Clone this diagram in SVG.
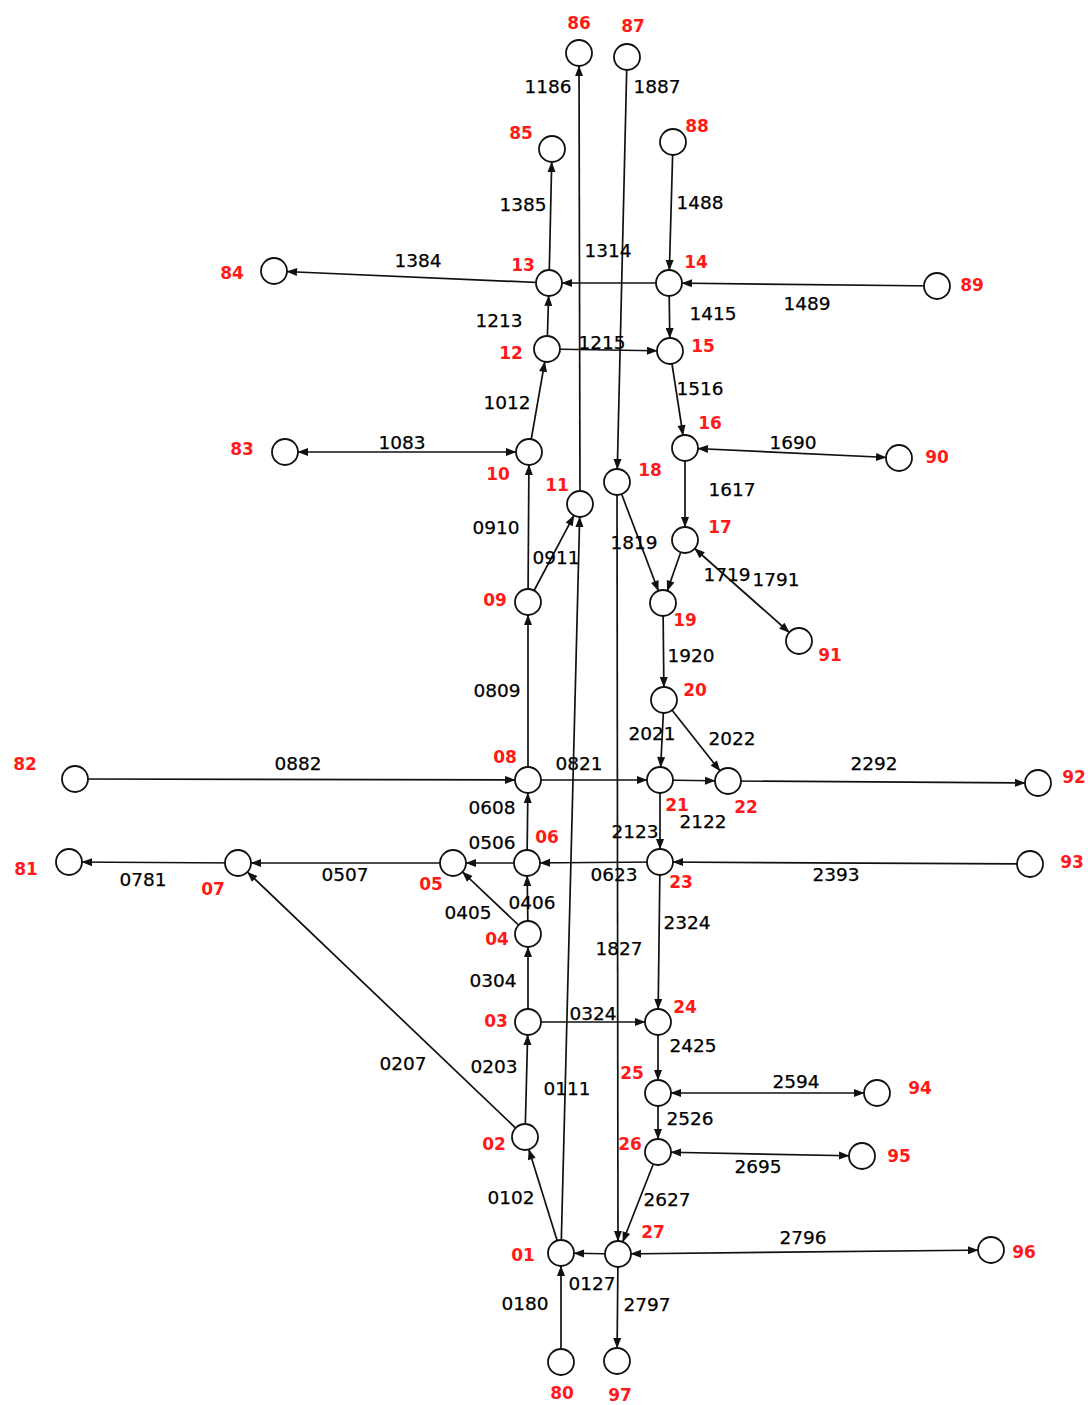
<svg xmlns="http://www.w3.org/2000/svg" width="1088" height="1405" viewBox="0 0 1088 1405">
<style>
.e{stroke:#111;stroke-width:1.7;fill:none}
.n circle{fill:#fff;stroke:#111;stroke-width:1.8}
.n text{font-family:"DejaVu Sans",Verdana,sans-serif;font-size:17px;font-weight:bold;fill:#ff1a1a;text-anchor:middle}
.l{font-family:"DejaVu Sans",Verdana,sans-serif;font-size:18.5px;fill:#000;text-anchor:middle;stroke:#000;stroke-width:0.25}
</style>
<defs>
<marker id="a" markerUnits="userSpaceOnUse" markerWidth="24" markerHeight="9" refX="23" refY="4.5" orient="auto-start-reverse" overflow="visible"><path d="M0,0.5 L10.5,4.5 L0,8.5 z" fill="#111"/></marker>
</defs>
<rect width="1088" height="1405" fill="#fff"/>
<g id="connectors">
<g id="e1186"><line class="e" x1="580" y1="504" x2="579" y2="53" marker-end="url(#a)"/><text class="l" x="548" y="93">1186</text></g>
<g id="e1887"><line class="e" x1="627" y1="57" x2="617" y2="482" marker-end="url(#a)"/><text class="l" x="657" y="93">1887</text></g>
<g id="e1385"><line class="e" x1="549" y1="283" x2="552" y2="149" marker-end="url(#a)"/><text class="l" x="523" y="211">1385</text></g>
<g id="e1488"><line class="e" x1="673" y1="142" x2="669" y2="283" marker-end="url(#a)"/><text class="l" x="700" y="209">1488</text></g>
<g id="e1314"><line class="e" x1="669" y1="283" x2="549" y2="283" marker-end="url(#a)"/><text class="l" x="608" y="257">1314</text></g>
<g id="e1384"><line class="e" x1="549" y1="283" x2="274" y2="271" marker-end="url(#a)"/><text class="l" x="418" y="267">1384</text></g>
<g id="e1489"><line class="e" x1="937" y1="286" x2="669" y2="283" marker-end="url(#a)"/><text class="l" x="807" y="310">1489</text></g>
<g id="e1213"><line class="e" x1="547" y1="349" x2="549" y2="283" marker-end="url(#a)"/><text class="l" x="499" y="327">1213</text></g>
<g id="e1415"><line class="e" x1="669" y1="283" x2="670" y2="351" marker-end="url(#a)"/><text class="l" x="713" y="320">1415</text></g>
<g id="e1215"><line class="e" x1="547" y1="349" x2="670" y2="351" marker-end="url(#a)"/><text class="l" x="602" y="349">1215</text></g>
<g id="e1516"><line class="e" x1="670" y1="351" x2="685" y2="448" marker-end="url(#a)"/><text class="l" x="700" y="395">1516</text></g>
<g id="e1012"><line class="e" x1="529" y1="452" x2="547" y2="349" marker-end="url(#a)"/><text class="l" x="507" y="409">1012</text></g>
<g id="e1083"><line class="e" x1="285" y1="452" x2="529" y2="452" marker-start="url(#a)" marker-end="url(#a)"/><text class="l" x="402" y="449">1083</text></g>
<g id="e1690"><line class="e" x1="685" y1="448" x2="899" y2="458" marker-start="url(#a)" marker-end="url(#a)"/><text class="l" x="793" y="449">1690</text></g>
<g id="e1617"><line class="e" x1="685" y1="448" x2="685" y2="540" marker-end="url(#a)"/><text class="l" x="732" y="496">1617</text></g>
<g id="e0910"><line class="e" x1="528" y1="602" x2="529" y2="452" marker-end="url(#a)"/><text class="l" x="496" y="534">0910</text></g>
<g id="e0911"><line class="e" x1="528" y1="602" x2="580" y2="504" marker-end="url(#a)"/><text class="l" x="556" y="564">0911</text></g>
<g id="e1819"><line class="e" x1="617" y1="482" x2="663" y2="603" marker-end="url(#a)"/><text class="l" x="634" y="549">1819</text></g>
<g id="e1719"><line class="e" x1="685" y1="540" x2="663" y2="603" marker-end="url(#a)"/><text class="l" x="727" y="581">1719</text></g>
<g id="e1791"><line class="e" x1="685" y1="540" x2="799" y2="641" marker-start="url(#a)" marker-end="url(#a)"/><text class="l" x="776" y="586">1791</text></g>
<g id="e1920"><line class="e" x1="663" y1="603" x2="664" y2="700" marker-end="url(#a)"/><text class="l" x="691" y="662">1920</text></g>
<g id="e0809"><line class="e" x1="528" y1="780" x2="528" y2="602" marker-end="url(#a)"/><text class="l" x="497" y="697">0809</text></g>
<g id="e2021"><line class="e" x1="664" y1="700" x2="660" y2="780" marker-end="url(#a)"/><text class="l" x="652" y="740">2021</text></g>
<g id="e2022"><line class="e" x1="664" y1="700" x2="728" y2="781" marker-end="url(#a)"/><text class="l" x="732" y="745">2022</text></g>
<g id="e0882"><line class="e" x1="75" y1="779" x2="528" y2="780" marker-end="url(#a)"/><text class="l" x="298" y="770">0882</text></g>
<g id="e0821"><line class="e" x1="528" y1="780" x2="660" y2="780" marker-end="url(#a)"/><text class="l" x="579" y="770">0821</text></g>
<g id="e2122"><line class="e" x1="660" y1="780" x2="728" y2="781" marker-end="url(#a)"/><text class="l" x="703" y="828">2122</text></g>
<g id="e2292"><line class="e" x1="728" y1="781" x2="1038" y2="783" marker-end="url(#a)"/><text class="l" x="874" y="770">2292</text></g>
<g id="e0608"><line class="e" x1="527" y1="863" x2="528" y2="780" marker-end="url(#a)"/><text class="l" x="492" y="814">0608</text></g>
<g id="e2123"><line class="e" x1="660" y1="780" x2="660" y2="862" marker-end="url(#a)"/><text class="l" x="635" y="838">2123</text></g>
<g id="e0506"><line class="e" x1="527" y1="863" x2="453" y2="863" marker-end="url(#a)"/><text class="l" x="492" y="849">0506</text></g>
<g id="e0781"><line class="e" x1="238" y1="863" x2="69" y2="862" marker-end="url(#a)"/><text class="l" x="143" y="886">0781</text></g>
<g id="e0507"><line class="e" x1="453" y1="863" x2="238" y2="863" marker-end="url(#a)"/><text class="l" x="345" y="881">0507</text></g>
<g id="e0623"><line class="e" x1="660" y1="862" x2="527" y2="863" marker-end="url(#a)"/><text class="l" x="614" y="881">0623</text></g>
<g id="e2393"><line class="e" x1="1030" y1="864" x2="660" y2="862" marker-end="url(#a)"/><text class="l" x="836" y="881">2393</text></g>
<g id="e0406"><line class="e" x1="528" y1="934" x2="527" y2="863" marker-end="url(#a)"/><text class="l" x="532" y="909">0406</text></g>
<g id="e0405"><line class="e" x1="528" y1="934" x2="453" y2="863" marker-end="url(#a)"/><text class="l" x="468" y="919">0405</text></g>
<g id="e2324"><line class="e" x1="660" y1="862" x2="658" y2="1022" marker-end="url(#a)"/><text class="l" x="687" y="929">2324</text></g>
<g id="e1827"><line class="e" x1="617" y1="482" x2="618" y2="1254" marker-end="url(#a)"/><text class="l" x="619" y="955">1827</text></g>
<g id="e0304"><line class="e" x1="528" y1="1022" x2="528" y2="934" marker-end="url(#a)"/><text class="l" x="493" y="987">0304</text></g>
<g id="e0324"><line class="e" x1="528" y1="1022" x2="658" y2="1022" marker-end="url(#a)"/><text class="l" x="593" y="1020">0324</text></g>
<g id="e2425"><line class="e" x1="658" y1="1022" x2="658" y2="1093" marker-end="url(#a)"/><text class="l" x="693" y="1052">2425</text></g>
<g id="e0207"><line class="e" x1="525" y1="1137" x2="238" y2="863" marker-end="url(#a)"/><text class="l" x="403" y="1070">0207</text></g>
<g id="e0203"><line class="e" x1="525" y1="1137" x2="528" y2="1022" marker-end="url(#a)"/><text class="l" x="494" y="1073">0203</text></g>
<g id="e0111"><line class="e" x1="561" y1="1253" x2="580" y2="504" marker-end="url(#a)"/><text class="l" x="567" y="1095">0111</text></g>
<g id="e2594"><line class="e" x1="658" y1="1093" x2="877" y2="1093" marker-start="url(#a)" marker-end="url(#a)"/><text class="l" x="796" y="1088">2594</text></g>
<g id="e2526"><line class="e" x1="658" y1="1093" x2="658" y2="1152" marker-end="url(#a)"/><text class="l" x="690" y="1125">2526</text></g>
<g id="e2695"><line class="e" x1="658" y1="1152" x2="862" y2="1156" marker-start="url(#a)" marker-end="url(#a)"/><text class="l" x="758" y="1173">2695</text></g>
<g id="e0102"><line class="e" x1="561" y1="1253" x2="525" y2="1137" marker-end="url(#a)"/><text class="l" x="511" y="1204">0102</text></g>
<g id="e2627"><line class="e" x1="658" y1="1152" x2="618" y2="1254" marker-end="url(#a)"/><text class="l" x="667" y="1206">2627</text></g>
<g id="e2796"><line class="e" x1="618" y1="1254" x2="991" y2="1250" marker-start="url(#a)" marker-end="url(#a)"/><text class="l" x="803" y="1244">2796</text></g>
<g id="e0127"><line class="e" x1="618" y1="1254" x2="561" y2="1253" marker-end="url(#a)"/><text class="l" x="592" y="1290">0127</text></g>
<g id="e0180"><line class="e" x1="561" y1="1362" x2="561" y2="1253" marker-end="url(#a)"/><text class="l" x="525" y="1310">0180</text></g>
<g id="e2797"><line class="e" x1="618" y1="1254" x2="617" y2="1361" marker-end="url(#a)"/><text class="l" x="647" y="1311">2797</text></g>
</g>
<g id="nodes">
<g id="n01" class="n"><circle cx="561" cy="1253" r="13"/><text x="523" y="1261">01</text></g>
<g id="n02" class="n"><circle cx="525" cy="1137" r="13"/><text x="494" y="1150">02</text></g>
<g id="n03" class="n"><circle cx="528" cy="1022" r="13"/><text x="496" y="1027">03</text></g>
<g id="n04" class="n"><circle cx="528" cy="934" r="13"/><text x="497" y="945">04</text></g>
<g id="n05" class="n"><circle cx="453" cy="863" r="13"/><text x="431" y="890">05</text></g>
<g id="n06" class="n"><circle cx="527" cy="863" r="13"/><text x="547" y="843">06</text></g>
<g id="n07" class="n"><circle cx="238" cy="863" r="13"/><text x="213" y="895">07</text></g>
<g id="n08" class="n"><circle cx="528" cy="780" r="13"/><text x="505" y="763">08</text></g>
<g id="n09" class="n"><circle cx="528" cy="602" r="13"/><text x="495" y="606">09</text></g>
<g id="n10" class="n"><circle cx="529" cy="452" r="13"/><text x="498" y="480">10</text></g>
<g id="n11" class="n"><circle cx="580" cy="504" r="13"/><text x="557" y="491">11</text></g>
<g id="n12" class="n"><circle cx="547" cy="349" r="13"/><text x="511" y="359">12</text></g>
<g id="n13" class="n"><circle cx="549" cy="283" r="13"/><text x="523" y="271">13</text></g>
<g id="n14" class="n"><circle cx="669" cy="283" r="13"/><text x="696" y="268">14</text></g>
<g id="n15" class="n"><circle cx="670" cy="351" r="13"/><text x="703" y="352">15</text></g>
<g id="n16" class="n"><circle cx="685" cy="448" r="13"/><text x="710" y="429">16</text></g>
<g id="n17" class="n"><circle cx="685" cy="540" r="13"/><text x="720" y="533">17</text></g>
<g id="n18" class="n"><circle cx="617" cy="482" r="13"/><text x="650" y="476">18</text></g>
<g id="n19" class="n"><circle cx="663" cy="603" r="13"/><text x="685" y="626">19</text></g>
<g id="n20" class="n"><circle cx="664" cy="700" r="13"/><text x="695" y="696">20</text></g>
<g id="n21" class="n"><circle cx="660" cy="780" r="13"/><text x="677" y="811">21</text></g>
<g id="n22" class="n"><circle cx="728" cy="781" r="13"/><text x="746" y="813">22</text></g>
<g id="n23" class="n"><circle cx="660" cy="862" r="13"/><text x="681" y="888">23</text></g>
<g id="n24" class="n"><circle cx="658" cy="1022" r="13"/><text x="685" y="1013">24</text></g>
<g id="n25" class="n"><circle cx="658" cy="1093" r="13"/><text x="632" y="1079">25</text></g>
<g id="n26" class="n"><circle cx="658" cy="1152" r="13"/><text x="630" y="1150">26</text></g>
<g id="n27" class="n"><circle cx="618" cy="1254" r="13"/><text x="653" y="1238">27</text></g>
<g id="n80" class="n"><circle cx="561" cy="1362" r="13"/><text x="562" y="1399">80</text></g>
<g id="n81" class="n"><circle cx="69" cy="862" r="13"/><text x="26" y="875">81</text></g>
<g id="n82" class="n"><circle cx="75" cy="779" r="13"/><text x="25" y="770">82</text></g>
<g id="n83" class="n"><circle cx="285" cy="452" r="13"/><text x="242" y="455">83</text></g>
<g id="n84" class="n"><circle cx="274" cy="271" r="13"/><text x="232" y="279">84</text></g>
<g id="n85" class="n"><circle cx="552" cy="149" r="13"/><text x="521" y="139">85</text></g>
<g id="n86" class="n"><circle cx="579" cy="53" r="13"/><text x="579" y="29">86</text></g>
<g id="n87" class="n"><circle cx="627" cy="57" r="13"/><text x="633" y="32">87</text></g>
<g id="n88" class="n"><circle cx="673" cy="142" r="13"/><text x="697" y="132">88</text></g>
<g id="n89" class="n"><circle cx="937" cy="286" r="13"/><text x="972" y="291">89</text></g>
<g id="n90" class="n"><circle cx="899" cy="458" r="13"/><text x="937" y="463">90</text></g>
<g id="n91" class="n"><circle cx="799" cy="641" r="13"/><text x="830" y="661">91</text></g>
<g id="n92" class="n"><circle cx="1038" cy="783" r="13"/><text x="1074" y="783">92</text></g>
<g id="n93" class="n"><circle cx="1030" cy="864" r="13"/><text x="1072" y="868">93</text></g>
<g id="n94" class="n"><circle cx="877" cy="1093" r="13"/><text x="920" y="1094">94</text></g>
<g id="n95" class="n"><circle cx="862" cy="1156" r="13"/><text x="899" y="1162">95</text></g>
<g id="n96" class="n"><circle cx="991" cy="1250" r="13"/><text x="1024" y="1258">96</text></g>
<g id="n97" class="n"><circle cx="617" cy="1361" r="13"/><text x="620" y="1401">97</text></g>
</g>
</svg>
